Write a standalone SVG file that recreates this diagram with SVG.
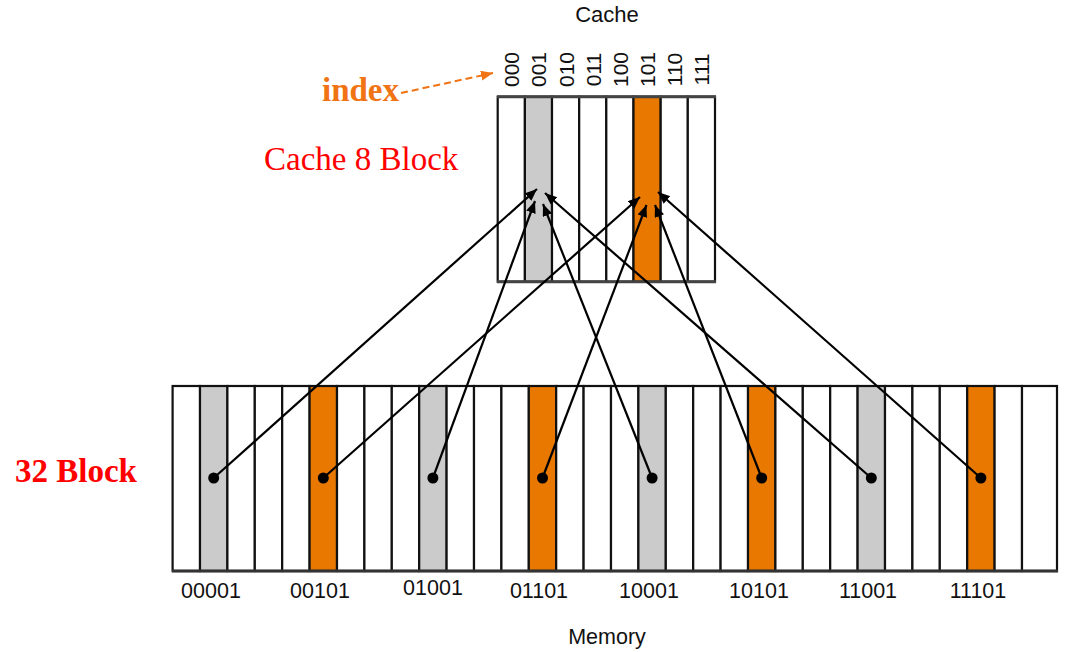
<svg xmlns="http://www.w3.org/2000/svg" width="1079" height="652" viewBox="0 0 1079 652">
<style>
.sans{font-family:"Liberation Sans",Arial,sans-serif;fill:#111;}
.serif{font-family:"Liberation Serif","Times New Roman",serif;}
.cell{fill:#fff;stroke:#111;stroke-width:2.2;}
.gray{fill:#cbcbcb;}
.orange{fill:#e87800;}
.conn{stroke:#000;stroke-width:2.2;fill:none;marker-end:url(#ah);}
.dot{fill:#000;}
</style>
<defs>
<marker id="ah" markerUnits="userSpaceOnUse" markerWidth="14" markerHeight="12" refX="12" refY="5" orient="auto">
<path d="M0,0 L12,5 L0,10 Z" fill="#000"/>
</marker>
<marker id="ahO" markerUnits="userSpaceOnUse" markerWidth="14" markerHeight="12" refX="12" refY="5" orient="auto">
<path d="M0,0 L12,5 L0,10 Z" fill="#f07314"/>
</marker>
</defs>
<rect width="1079" height="652" fill="#fff"/>

<g id="cache-title"><text class="sans" x="607" y="22" font-size="22" text-anchor="middle">Cache</text></g>

<g id="index-label">
<text class="serif" x="322" y="101" font-size="33" font-weight="bold" fill="#f07314">index</text>
<path d="M401,93 L493,73" stroke="#f07314" stroke-width="2" stroke-dasharray="7,4" fill="none" marker-end="url(#ahO)"/>
</g>

<g id="cache-8-block-label"><text class="serif" x="264" y="170" font-size="33" fill="#f00">Cache 8 Block</text></g>
<g id="block-32-label"><text class="serif" x="15" y="482" font-size="33" font-weight="bold" fill="#f00">32 Block</text></g>

<g id="cache-index-labels" class="sans" font-size="21" text-anchor="middle">
<text transform="translate(519,69.5) rotate(-90)">000</text>
<text transform="translate(546,69.5) rotate(-90)">001</text>
<text transform="translate(573.5,69.5) rotate(-90)">010</text>
<text transform="translate(600.5,69.5) rotate(-90)">011</text>
<text transform="translate(628,69.5) rotate(-90)">100</text>
<text transform="translate(655,69.5) rotate(-90)">101</text>
<text transform="translate(682,69.5) rotate(-90)">110</text>
<text transform="translate(709,69.5) rotate(-90)">111</text>
</g>

<g id="cache">
<rect class="cell" x="497.7" y="96.7" width="27.2" height="185"/>
<rect class="cell gray" x="524.9" y="96.7" width="27.1" height="185"/>
<rect class="cell" x="552" y="96.7" width="27.2" height="185"/>
<rect class="cell" x="579.2" y="96.7" width="27.1" height="185"/>
<rect class="cell" x="606.3" y="96.7" width="27.2" height="185"/>
<rect class="cell orange" x="633.5" y="96.7" width="27.2" height="185"/>
<rect class="cell" x="660.7" y="96.7" width="27.1" height="185"/>
<rect class="cell" x="687.8" y="96.7" width="27.2" height="185"/>
<line x1="497" y1="96.7" x2="716" y2="96.7" stroke="#444" stroke-width="3"/>
<line x1="497" y1="281.7" x2="716" y2="281.7" stroke="#444" stroke-width="3"/>
</g>

<g id="memory">
<rect class="cell" x="172.6" y="386" width="27.4" height="185"/>
<rect class="cell gray" x="200" y="386" width="27.4" height="185"/>
<rect class="cell" x="227.4" y="386" width="27.4" height="185"/>
<rect class="cell" x="254.8" y="386" width="27.4" height="185"/>
<rect class="cell" x="282.2" y="386" width="27.4" height="185"/>
<rect class="cell orange" x="309.6" y="386" width="27.4" height="185"/>
<rect class="cell" x="337" y="386" width="27.4" height="185"/>
<rect class="cell" x="364.4" y="386" width="27.4" height="185"/>
<rect class="cell" x="391.8" y="386" width="27.4" height="185"/>
<rect class="cell gray" x="419.2" y="386" width="27.4" height="185"/>
<rect class="cell" x="446.6" y="386" width="27.4" height="185"/>
<rect class="cell" x="474" y="386" width="27.4" height="185"/>
<rect class="cell" x="501.4" y="386" width="27.4" height="185"/>
<rect class="cell orange" x="528.8" y="386" width="27.4" height="185"/>
<rect class="cell" x="556.2" y="386" width="27.4" height="185"/>
<rect class="cell" x="583.6" y="386" width="27.4" height="185"/>
<rect class="cell" x="611" y="386" width="27.4" height="185"/>
<rect class="cell gray" x="638.4" y="386" width="27.4" height="185"/>
<rect class="cell" x="665.8" y="386" width="27.4" height="185"/>
<rect class="cell" x="693.2" y="386" width="27.4" height="185"/>
<rect class="cell" x="720.6" y="386" width="27.4" height="185"/>
<rect class="cell orange" x="748" y="386" width="27.4" height="185"/>
<rect class="cell" x="775.4" y="386" width="27.4" height="185"/>
<rect class="cell" x="802.8" y="386" width="27.4" height="185"/>
<rect class="cell" x="830.2" y="386" width="27.4" height="185"/>
<rect class="cell gray" x="857.6" y="386" width="27.4" height="185"/>
<rect class="cell" x="885" y="386" width="27.4" height="185"/>
<rect class="cell" x="912.4" y="386" width="27.4" height="185"/>
<rect class="cell" x="939.8" y="386" width="27.4" height="185"/>
<rect class="cell orange" x="967.2" y="386" width="27.4" height="185"/>
<rect class="cell" x="994.6" y="386" width="27.4" height="185"/>
<rect class="cell" x="1022" y="386" width="35" height="185"/>
<line x1="172" y1="571" x2="1058" y2="571" stroke="#333" stroke-width="3"/>
</g>

<g id="memory-labels" class="sans" font-size="21.5" text-anchor="middle">
<text x="211" y="598">00001</text>
<text x="320" y="598">00101</text>
<text x="433" y="595">01001</text>
<text x="539" y="598">01101</text>
<text x="649" y="598">10001</text>
<text x="759" y="598">10101</text>
<text x="868" y="598">11001</text>
<text x="978" y="598">11101</text>
</g>
<g id="memory-title"><text class="sans" x="607" y="644" font-size="21.5" text-anchor="middle">Memory</text></g>

<g id="connectors">
<path class="conn" d="M213.7,478 L537,189"/>
<path class="conn" d="M432.9,478 L535,201"/>
<path class="conn" d="M652.1,478 L543,204"/>
<path class="conn" d="M871.3,478 L545,193"/>
<path class="conn" d="M323.3,478 L640,197"/>
<path class="conn" d="M542.5,478 L646.5,205"/>
<path class="conn" d="M761.7,478 L655,205"/>
<path class="conn" d="M980.9,478 L658,192"/>
<circle class="dot" cx="213.7" cy="478" r="5.5"/>
<circle class="dot" cx="323.3" cy="478" r="5.5"/>
<circle class="dot" cx="432.9" cy="478" r="5.5"/>
<circle class="dot" cx="542.5" cy="478" r="5.5"/>
<circle class="dot" cx="652.1" cy="478" r="5.5"/>
<circle class="dot" cx="761.7" cy="478" r="5.5"/>
<circle class="dot" cx="871.3" cy="478" r="5.5"/>
<circle class="dot" cx="980.9" cy="478" r="5.5"/>
</g>
</svg>
